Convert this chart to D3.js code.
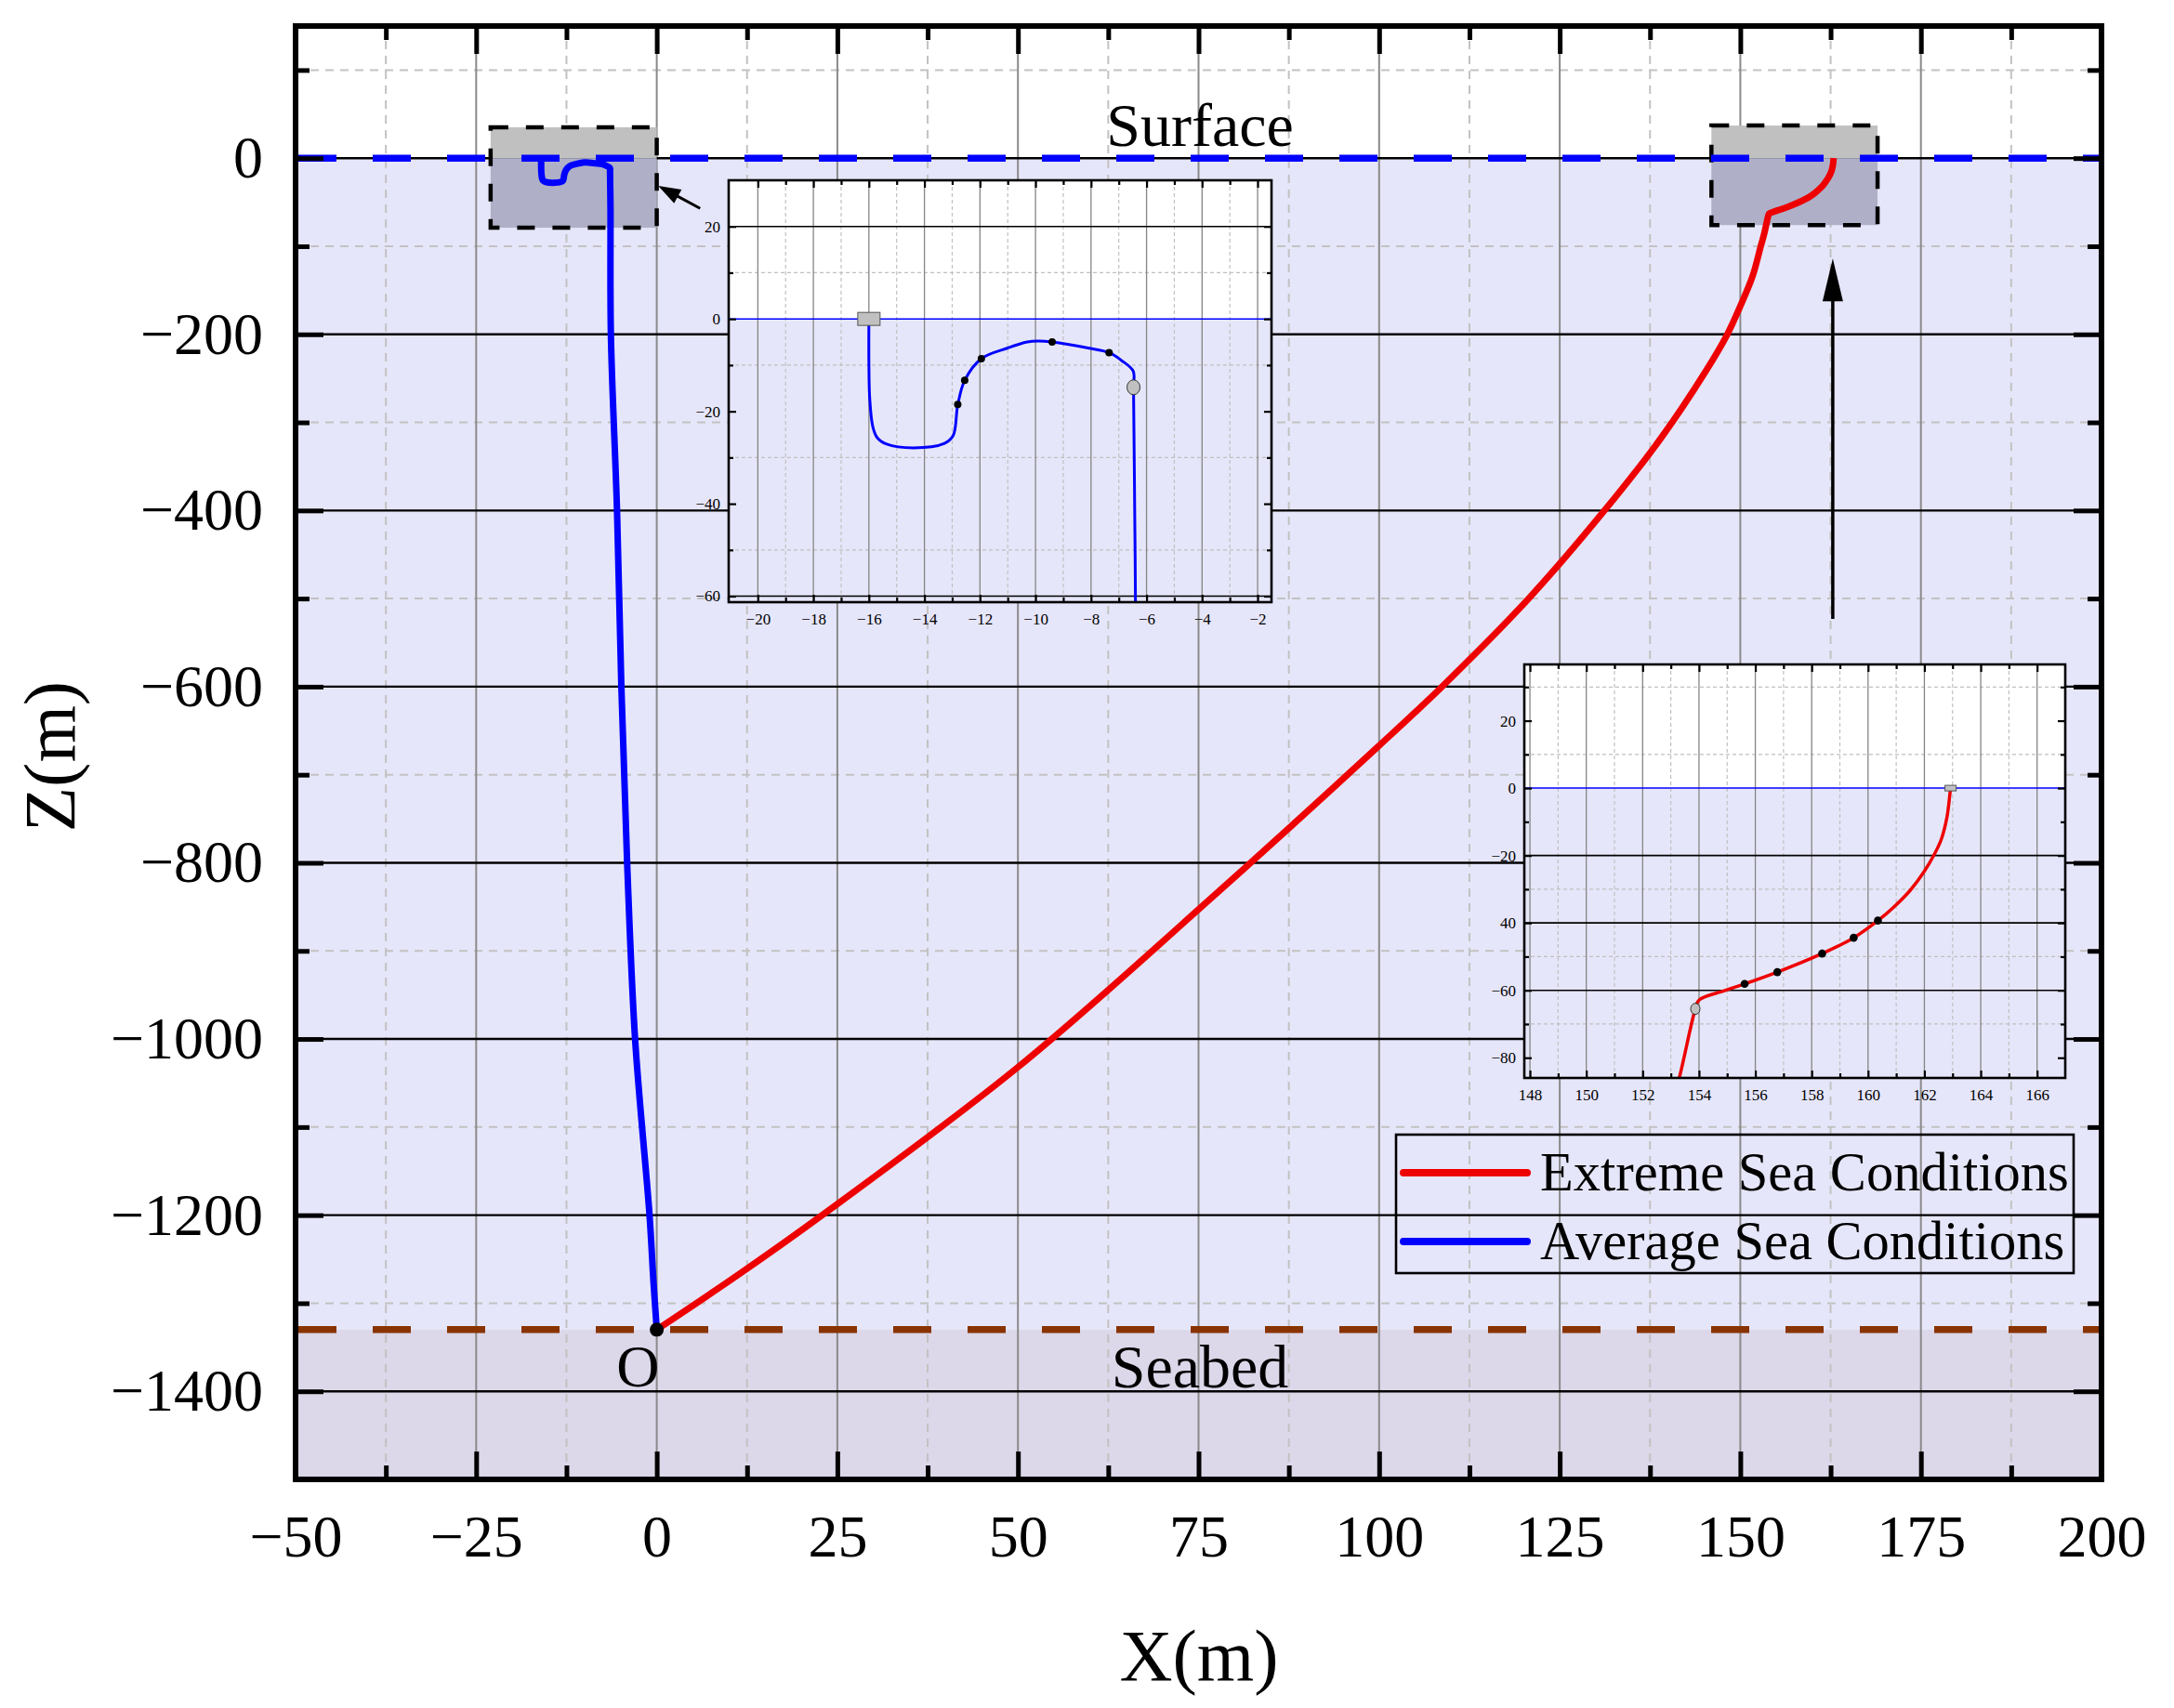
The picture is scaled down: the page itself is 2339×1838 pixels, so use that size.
<!DOCTYPE html>
<html><head><meta charset="utf-8">
<script src="https://cdn.jsdelivr.net/npm/d3@7"></script>
<style>body{margin:0;background:#fff}svg{display:block}text{font-family:"Liberation Serif","Times New Roman",serif}</style>
</head><body><svg id="c" width="2339" height="1838"></svg>
<script>
// ---------------- DATA ----------------
const xTicks = [-50,-25,0,25,50,75,100,125,150,175,200];
const xTickLabels = ["−50","−25","0","25","50","75","100","125","150","175","200"];
const xMinorTicks = [-37.5,-12.5,12.5,37.5,62.5,87.5,112.5,137.5,162.5,187.5];
const zTicks = [-1400,-1200,-1000,-800,-600,-400,-200,0];
const zTickLabels = ["−1400","−1200","−1000","−800","−600","−400","−200","0"];
const zMinorTicks = [-1300,-1100,-900,-700,-500,-300,-100,100];
const surfaceZ = 0;
const seabedZ = -1330;

// Extreme sea conditions (red), seabed -> surface
const redX = [0,11.4,22.9,50,75,100,108.7,120.7,131.2,139.0,145.2,148.2,150,151.7,152.8,153.3,153.87,154.0,154.9,155.62,156.78,158.37,159.49,160.35,160.9,161.5,161.99,162.35,162.6,162.8,162.91,162.93];
const redZ = [-1330,-1267,-1200,-1032,-853,-667,-600,-500,-400,-318,-242,-200,-168,-134,-101,-86,-65.5,-62.9,-60.1,-58.1,-54.6,-49.1,-44.4,-39.3,-35.4,-30.3,-24.8,-19.7,-15.2,-8.7,-1.4,0];
// Average sea conditions (blue), surface -> seabed
const blueX = [-16.0,-16.0,-15.97,-15.86,-15.7,-15.36,-14.4,-13.3,-12.97,-12.8,-12.55,-11.95,-11.0,-10.3,-9.9,-9.4,-8.1,-7.35,-6.9,-6.48,-6.47,-6.42,-6.4,-6.35,-5.5,-4.9,-4.1,-3.0,-1.0,-0.45,0];
const blueZ = [0,-10,-17.3,-23.3,-25.7,-27.1,-27.9,-27.0,-25.3,-18.6,-13.3,-8.6,-6.3,-5.0,-4.8,-5.0,-6.3,-7.3,-9.0,-11.3,-14.8,-46,-61,-200,-400,-600,-800,-1000,-1200,-1276,-1330];

// inset markers
const blueDotsX = [-12.8,-12.55,-11.95,-9.4,-7.35];
const blueDotsZ = [-18.5,-13.3,-8.6,-5.0,-7.3];
const blueFloat = [-16,0];
const blueJoint = [-6.47,-14.8];
const redDotsX = [155.62,156.78,158.37,159.49,160.35];
const redDotsZ = [-58.1,-54.6,-49.1,-44.4,-39.3];
const redFloat = [162.93,0];
const redJoint = [153.87,-65.5];

// inset axes
const in1XTicks = [-20,-18,-16,-14,-12,-10,-8,-6,-4,-2];
const in1XLabels = ["−20","−18","−16","−14","−12","−10","−8","−6","−4","−2"];
const in1XMinor = [-19,-17,-15,-13,-11,-9,-7,-5,-3];
const in1ZTicks = [20,0,-20,-40,-60];
const in1ZLabels = ["20","0","−20","−40","−60"];
const in1ZMinor = [10,-10,-30,-50];
const in1ZSolid = [20,-60];
const in1ZDash = [10,-10,-30,-50];

const in2XTicks = [148,150,152,154,156,158,160,162,164,166];
const in2XLabels = ["148","150","152","154","156","158","160","162","164","166"];
const in2XMinor = [149,151,153,155,157,159,161,163,165];
const in2ZTicks = [20,0,-20,-40,-60,-80];
const in2ZLabels = ["20","0","−20","40","−60","−80"];
const in2ZMinor = [30,10,-10,-30,-50,-70];
const in2ZSolid = [-20,-40,-60];
const in2ZDash = [30,10,-30,-50,-70];

const legendLabels = ["Extreme Sea Conditions","Average Sea Conditions"];
const legendColors = ["#ee0000","#0000ff"];

// ---------------- LAYOUT ----------------
const L=318, R=2261, T=28, B=1592;
const FONT = "Liberation Serif";
const svg = d3.select("#c");
const x = d3.scaleLinear().domain([-50,200]).range([L,R]);
const y = d3.scaleLinear().domain([-1500,150]).range([B,T]);
const LAV = "#e6e6fa", SEA = "#dcd7e9";

const redPts = redX.map((v,i)=>[v,redZ[i]]);
const bluePts = blueX.map((v,i)=>[v,blueZ[i]]);

// backgrounds
svg.append("rect").attr("x",L).attr("y",T).attr("width",R-L).attr("height",B-T).attr("fill","#fff");
svg.append("rect").attr("x",L).attr("y",y(surfaceZ)).attr("width",R-L).attr("height",y(seabedZ)-y(surfaceZ)).attr("fill",LAV);
svg.append("rect").attr("x",L).attr("y",y(seabedZ)).attr("width",R-L).attr("height",B-y(seabedZ)).attr("fill",SEA);

// grid
const grid = svg.append("g");
grid.selectAll(".vm").data(xMinorTicks).join("line").attr("x1",d=>x(d)).attr("x2",d=>x(d)).attr("y1",T).attr("y2",B)
  .attr("stroke","#c2c2c2").attr("stroke-width",2).attr("stroke-dasharray","9,7");
grid.selectAll(".hm").data(zMinorTicks).join("line").attr("class","hm").attr("y1",d=>y(d)).attr("y2",d=>y(d)).attr("x1",L).attr("x2",R)
  .attr("stroke","#c2c2c2").attr("stroke-width",2).attr("stroke-dasharray","9,7");
grid.selectAll(".vM").data(xTicks.slice(1,-1)).join("line").attr("class","vM").attr("x1",d=>x(d)).attr("x2",d=>x(d)).attr("y1",T).attr("y2",B)
  .attr("stroke","#8a8a8a").attr("stroke-width",2);
grid.selectAll(".hM").data(zTicks).join("line").attr("class","hM").attr("y1",d=>y(d)).attr("y2",d=>y(d)).attr("x1",L).attr("x2",R)
  .attr("stroke","#000").attr("stroke-width",2.4);

// zoom boxes
const boxes = [{x0:-23,x1:0,z0:35,z1:-79},{x0:146,x1:169,z0:37,z1:-76}];
boxes.forEach(b=>{
  svg.append("rect").attr("x",x(b.x0)).attr("y",y(b.z0)).attr("width",x(b.x1)-x(b.x0)).attr("height",y(0)-y(b.z0)).attr("fill","#c0c0c0");
  svg.append("rect").attr("x",x(b.x0)).attr("y",y(0)).attr("width",x(b.x1)-x(b.x0)).attr("height",y(b.z1)-y(0)).attr("fill","#afafc8");
  svg.append("rect").attr("x",x(b.x0)).attr("y",y(b.z0)).attr("width",x(b.x1)-x(b.x0)).attr("height",y(b.z1)-y(b.z0))
    .attr("fill","none").attr("stroke","#000").attr("stroke-width",4.5).attr("stroke-dasharray","19,19");
});

// surface & seabed
svg.append("line").attr("x1",L+3).attr("x2",R).attr("y1",y(surfaceZ)).attr("y2",y(surfaceZ))
  .attr("stroke","#0000ff").attr("stroke-width",7.5).attr("stroke-dasharray","41,39");
svg.append("line").attr("x1",L+3).attr("x2",R).attr("y1",y(seabedZ)).attr("y2",y(seabedZ))
  .attr("stroke","#883300").attr("stroke-width",7.5).attr("stroke-dasharray","41,39");

// curves
const mainLine = d3.line().x(d=>x(d[0])).y(d=>y(d[1])).curve(d3.curveCatmullRom.alpha(0.5));
svg.append("path").attr("d",mainLine(bluePts)).attr("fill","none").attr("stroke","#0000ff").attr("stroke-width",7).attr("stroke-linejoin","round");
svg.append("path").attr("d",mainLine(redPts)).attr("fill","none").attr("stroke","#ee0000").attr("stroke-width",7).attr("stroke-linejoin","round");
svg.append("circle").attr("cx",x(0)).attr("cy",y(seabedZ)).attr("r",7.5).attr("fill","#000");

// arrows
function arrow(x1,z1,x2,z2,len,wid,sw){
  const p1=[x(x1),y(z1)], p2=[x(x2),y(z2)];
  const dx=p2[0]-p1[0], dy=p2[1]-p1[1], d=Math.hypot(dx,dy), ux=dx/d, uy=dy/d;
  const bx=p2[0]-ux*len, by=p2[1]-uy*len;
  svg.append("line").attr("x1",p1[0]).attr("y1",p1[1]).attr("x2",bx+ux*2).attr("y2",by+uy*2).attr("stroke","#000").attr("stroke-width",sw);
  svg.append("path").attr("d",`M${p2[0]},${p2[1]}L${bx-uy*wid/2},${by+ux*wid/2}L${bx+uy*wid/2},${by-ux*wid/2}Z`).attr("fill","#000");
}
arrow(6,-57,0.2,-31.5,24,17,3);
arrow(162.8,-523,162.8,-114,46,22,3.5);

// ---------------- INSETS ----------------
function drawInset(o){
  const g = svg.append("g");
  const ix = d3.scaleLinear().domain(o.xd).range([o.l,o.r]);
  const iy = d3.scaleLinear().domain(o.zd).range([o.b,o.t]);
  const id = "clip"+o.id;
  svg.append("clipPath").attr("id",id).append("rect").attr("x",o.l).attr("y",o.t).attr("width",o.r-o.l).attr("height",o.b-o.t);
  g.append("rect").attr("x",o.l).attr("y",o.t).attr("width",o.r-o.l).attr("height",o.b-o.t).attr("fill","#fff");
  g.append("rect").attr("x",o.l).attr("y",iy(0)).attr("width",o.r-o.l).attr("height",o.b-iy(0)).attr("fill",LAV);
  g.selectAll(".a").data(o.xMinor).join("line").attr("class","a").attr("x1",d=>ix(d)).attr("x2",d=>ix(d)).attr("y1",o.t).attr("y2",o.b)
    .attr("stroke","#c0c0c0").attr("stroke-width",1.2).attr("stroke-dasharray","4,3");
  g.selectAll(".b").data(o.zDash).join("line").attr("class","b").attr("y1",d=>iy(d)).attr("y2",d=>iy(d)).attr("x1",o.l).attr("x2",o.r)
    .attr("stroke","#c0c0c0").attr("stroke-width",1.2).attr("stroke-dasharray","4,3");
  g.selectAll(".c").data(o.xTicks).join("line").attr("class","c").attr("x1",d=>ix(d)).attr("x2",d=>ix(d)).attr("y1",o.t).attr("y2",o.b)
    .attr("stroke","#858585").attr("stroke-width",1.3);
  g.selectAll(".e").data(o.zSolid).join("line").attr("class","e").attr("y1",d=>iy(d)).attr("y2",d=>iy(d)).attr("x1",o.l).attr("x2",o.r)
    .attr("stroke","#000").attr("stroke-width",1.6);
  g.append("line").attr("x1",o.l).attr("x2",o.r).attr("y1",iy(0)).attr("y2",iy(0)).attr("stroke","#0000ff").attr("stroke-width",1.5);
  const ln = d3.line().x(d=>ix(d[0])).y(d=>iy(d[1])).curve(d3.curveCatmullRom.alpha(0.5));
  const cg = g.append("g").attr("clip-path",`url(#${id})`);
  cg.append("path").attr("d",ln(o.pts)).attr("fill","none").attr("stroke",o.color).attr("stroke-width",o.lw).attr("stroke-linejoin","round");
  cg.append("rect").attr("x",ix(o.float[0])-o.fw/2).attr("y",iy(o.float[1])-o.fh/2).attr("width",o.fw).attr("height",o.fh)
    .attr("fill","#c0c0c0").attr("stroke","#555").attr("stroke-width",1);
  cg.selectAll(".dot").data(o.dx).join("circle").attr("cx",d=>ix(d)).attr("cy",(d,i)=>iy(o.dz[i])).attr("r",o.dr).attr("fill","#000");
  cg.append("ellipse").attr("cx",ix(o.joint[0])).attr("cy",iy(o.joint[1])).attr("rx",o.jrx).attr("ry",o.jry)
    .attr("fill","#c0c0c0").attr("stroke","#333").attr("stroke-width",1);
  g.append("rect").attr("x",o.l).attr("y",o.t).attr("width",o.r-o.l).attr("height",o.b-o.t).attr("fill","none").attr("stroke","#000").attr("stroke-width",2.6);
  const axes = [
    [d3.axisBottom(ix).tickValues(o.xTicks).tickFormat((d,i)=>o.xLabels[i]).tickSize(-8).tickPadding(12),`translate(0,${o.b})`],
    [d3.axisBottom(ix).tickValues(o.xMinor).tickFormat("").tickSize(-5),`translate(0,${o.b})`],
    [d3.axisTop(ix).tickValues(o.xTicks).tickFormat("").tickSize(-8),`translate(0,${o.t})`],
    [d3.axisTop(ix).tickValues(o.xMinor).tickFormat("").tickSize(-5),`translate(0,${o.t})`],
    [d3.axisLeft(iy).tickValues(o.zTicks).tickFormat((d,i)=>o.zLabels[i]).tickSize(-8).tickPadding(9),`translate(${o.l},0)`],
    [d3.axisLeft(iy).tickValues(o.zMinor).tickFormat("").tickSize(-5),`translate(${o.l},0)`],
    [d3.axisRight(iy).tickValues(o.zTicks).tickFormat("").tickSize(-8),`translate(${o.r},0)`],
    [d3.axisRight(iy).tickValues(o.zMinor).tickFormat("").tickSize(-5),`translate(${o.r},0)`]
  ];
  axes.forEach(([ax,tr])=>{
    const a = g.append("g").attr("transform",tr).call(ax);
    a.select(".domain").remove();
    a.attr("font-family",null).attr("font-size",null);
    a.selectAll("line").attr("stroke","#000").attr("stroke-width",2.2);
    a.selectAll("text").attr("font-family",FONT).attr("font-size",17).attr("fill","#000");
  });
}

drawInset({id:1,l:784,r:1368,t:194,b:648,xd:[-21.05,-1.5],zd:[-61.3,30],
  xTicks:in1XTicks,xLabels:in1XLabels,xMinor:in1XMinor,zTicks:in1ZTicks,zLabels:in1ZLabels,zMinor:in1ZMinor,
  zSolid:in1ZSolid,zDash:in1ZDash,pts:bluePts,color:"#0000ff",lw:3,
  float:blueFloat,fw:24,fh:14,dx:blueDotsX,dz:blueDotsZ,dr:4,joint:blueJoint,jrx:7,jry:8});
drawInset({id:2,l:1640,r:2222,t:715,b:1160,xd:[147.8,167],zd:[-86,36.7],
  xTicks:in2XTicks,xLabels:in2XLabels,xMinor:in2XMinor,zTicks:in2ZTicks,zLabels:in2ZLabels,zMinor:in2ZMinor,
  zSolid:in2ZSolid,zDash:in2ZDash,pts:redPts,color:"#ee0000",lw:3.5,
  float:redFloat,fw:12,fh:6,dx:redDotsX,dz:redDotsZ,dr:4.3,joint:redJoint,jrx:5,jry:6});

// ---------------- FRAME & AXES ----------------
svg.append("rect").attr("x",L).attr("y",T).attr("width",R-L).attr("height",B-T).attr("fill","none").attr("stroke","#000").attr("stroke-width",6);
const mainAxes = [
  [d3.axisBottom(x).tickValues(xTicks).tickFormat((d,i)=>xTickLabels[i]).tickSize(-30).tickPadding(38),`translate(0,${B})`],
  [d3.axisBottom(x).tickValues(xMinorTicks).tickFormat("").tickSize(-15),`translate(0,${B})`],
  [d3.axisTop(x).tickValues(xTicks).tickFormat("").tickSize(-30),`translate(0,${T})`],
  [d3.axisTop(x).tickValues(xMinorTicks).tickFormat("").tickSize(-15),`translate(0,${T})`],
  [d3.axisLeft(y).tickValues(zTicks).tickFormat((d,i)=>zTickLabels[i]).tickSize(-30).tickPadding(35),`translate(${L},0)`],
  [d3.axisLeft(y).tickValues(zMinorTicks).tickFormat("").tickSize(-15),`translate(${L},0)`],
  [d3.axisRight(y).tickValues(zTicks).tickFormat("").tickSize(-30),`translate(${R},0)`],
  [d3.axisRight(y).tickValues(zMinorTicks).tickFormat("").tickSize(-15),`translate(${R},0)`]
];
mainAxes.forEach(([ax,tr])=>{
  const a = svg.append("g").attr("transform",tr).call(ax);
  a.select(".domain").remove();
  a.attr("font-family",null).attr("font-size",null);
  a.selectAll("line").attr("stroke","#000").attr("stroke-width",5);
  a.selectAll("text").attr("font-family",FONT).attr("font-size",64).attr("fill","#000");
});

// ---------------- TEXT ----------------
const annotations = [{t:"Surface",x:75.2,z:14},{t:"Seabed",x:75.2,z:-1396}];
annotations.forEach(a=>svg.append("text").attr("x",x(a.x)).attr("y",y(a.z)).attr("text-anchor","middle").attr("font-size",66).text(a.t));
svg.append("text").attr("x",x(-2.6)).attr("y",y(-1395)).attr("text-anchor","middle").attr("font-size",64).text("O");
svg.append("text").attr("x",1290).attr("y",1808).attr("text-anchor","middle").attr("font-size",79).text("X(m)");
svg.append("text").attr("transform",`translate(80,814) rotate(-90)`).attr("text-anchor","middle").attr("font-size",79).text("Z(m)");

// ---------------- LEGEND ----------------
const lg = svg.append("g");
lg.append("rect").attr("x",1502).attr("y",1221).attr("width",729).attr("height",149).attr("fill","none").attr("stroke","#000").attr("stroke-width",2.6);
legendLabels.forEach((lab,i)=>{
  const cy = 1262 + i*74;
  lg.append("line").attr("x1",1510).attr("x2",1643).attr("y1",cy).attr("y2",cy).attr("stroke",legendColors[i]).attr("stroke-width",8).attr("stroke-linecap","round");
  lg.append("text").attr("x",1657).attr("y",cy+19).attr("font-size",58.5).text(lab);
});
</script></body></html>
